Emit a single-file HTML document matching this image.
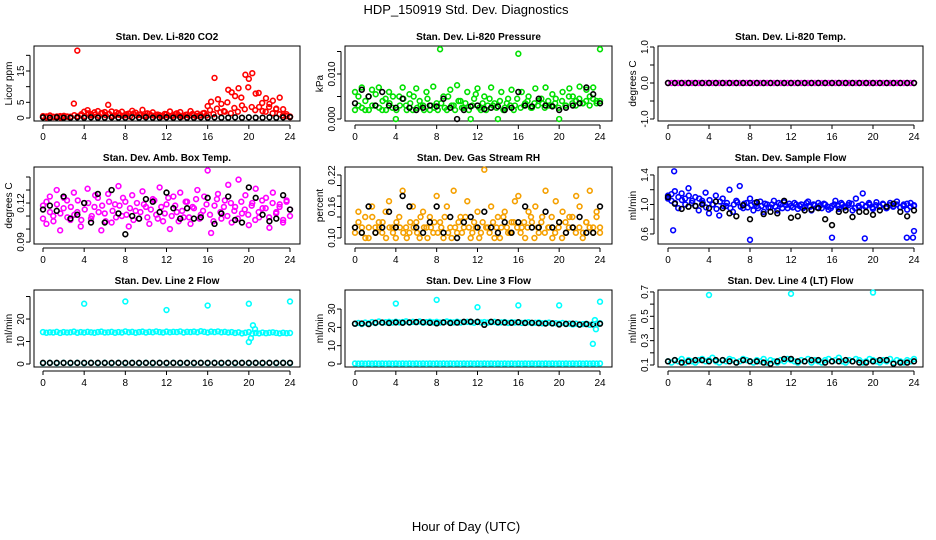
<!DOCTYPE html>
<html><head><meta charset="utf-8"><style>
body{margin:0;background:#fff}
svg{display:block;font-family:"Liberation Sans",sans-serif}
</style></head><body>
<svg id="chart" width="936" height="540" viewBox="0 0 936 540" xmlns="http://www.w3.org/2000/svg">
<text x="466" y="14" text-anchor="middle" font-size="13">HDP_150919  Std. Dev. Diagnostics</text>
<text x="466" y="531" text-anchor="middle" font-size="13">Hour of Day (UTC)</text>
</svg>
<script>
const xTicks=[0,4,8,12,16,20,24];
const co2Red=[0.3,0.5,0.2,0.4,0.3,0.6,0.2,0.5,0.4,4.6,21.5,0.8,2.0,2.5,1.2,1.8,2.2,1.5,1.9,4.2,2.1,0.8,1.5,2.0,0.9,1.4,2.3,1.7,1.1,2.6,0.7,1.3,1.8,1.0,0.9,0.6,1.2,2.1,0.8,1.5,1.9,0.7,1.1,2.2,0.9,1.4,0.8,1.6,3.8,5.2,12.8,6.0,4.5,2.0,9.0,8.2,7.0,9.5,4.0,13.8,12.5,14.3,7.8,3.5,2.2,6.3,4.5,5.5,3.0,6.5,2.8,1.2,0.5];
const co2Red2=[0.6,0.2,0.8,0.3,0.5,0.2,0.7,0.4,0.3,0.9,0.5,1.2,0.6,1.5,0.8,1.1,0.7,1.6,0.9,1.3,0.6,1.8,1.0,0.7,1.2,0.5,1.4,0.8,1.0,0.6,1.5,0.9,0.7,1.1,0.5,1.3,0.8,0.6,1.2,0.9,0.5,1.0,0.7,1.3,0.6,0.9,1.5,0.8,2.5,1.2,3.0,1.8,2.2,5.0,1.5,3.2,2.0,6.5,2.8,9.8,3.5,2.5,8.0,4.8,2.0,3.5,1.5,2.8,1.2,0.8,0.6,0.3];
const co2Black=[0.2,0.1,0.2,0.1,0.1,0.2,0.1,0.2,0.1,0.1,0.2,0.1,0.1,0.2,0.1,0.2,0.1,0.1,0.2,0.1,0.2,0.1,0.1,0.2,0.1,0.2,0.1,0.1,0.2,0.1,0.2,0.1,0.1,0.2,0.1,0.2,0.3];
const presGreen=[0.006,0.003,0.007,0.002,0.005,0.0065,0.003,0.007,0.002,0.0045,0.006,0.0025,0.0,0.005,0.007,0.003,0.0055,0.002,0.0068,0.004,0.003,0.006,0.002,0.0072,0.0035,0.0155,0.005,0.002,0.0065,0.003,0.0075,0.004,0.0025,0.006,0.0,0.0045,0.0068,0.002,0.005,0.003,0.007,0.0035,0.0,0.006,0.0025,0.0045,0.0065,0.003,0.0145,0.006,0.0035,0.005,0.0025,0.0068,0.004,0.0035,0.007,0.003,0.0055,0.0045,0.0,0.006,0.003,0.0068,0.005,0.004,0.0072,0.0035,0.0065,0.005,0.007,0.004,0.0155];
const presGreen2=[0.002,0.005,0.0025,0.004,0.002,0.003,0.0055,0.0025,0.004,0.002,0.0035,0.005,0.002,0.003,0.0045,0.002,0.0035,0.005,0.0025,0.003,0.002,0.0045,0.003,0.0025,0.002,0.0035,0.0025,0.005,0.003,0.002,0.004,0.0025,0.0035,0.002,0.003,0.0055,0.0025,0.0035,0.002,0.0045,0.003,0.0025,0.004,0.002,0.0035,0.003,0.002,0.0045,0.0025,0.003,0.004,0.0025,0.0035,0.003,0.0045,0.0025,0.004,0.003,0.0035,0.0025,0.004,0.003,0.005,0.0035,0.003,0.0045,0.0035,0.004,0.003,0.0045,0.0035,0.004];
const presBlack=[0.0035,0.0065,0.005,0.003,0.006,0.003,0.0025,0.0045,0.0025,0.002,0.0025,0.003,0.0028,0.0045,0.0025,0.0,0.002,0.0028,0.003,0.0022,0.0025,0.0028,0.002,0.0025,0.006,0.003,0.0028,0.0045,0.003,0.0028,0.002,0.0025,0.003,0.0035,0.007,0.0055,0.0035];
const tempMag=[0,0,0,0,0,0,0,0,0,0,0,0,0,0,0,0,0,0,0,0,0,0,0,0,0,0,0,0,0,0,0,0,0,0,0,0,0,0,0,0,0,0,0,0,0,0,0,0,0,0,0,0,0,0,0,0,0,0,0,0,0,0,0,0,0,0,0,0,0,0,0,0,0];
const tempBlack=[0,0,0,0,0,0,0,0,0,0,0,0,0,0,0,0,0,0,0,0,0,0,0,0,0,0,0,0,0,0,0,0,0,0,0,0,0];
const ambMag=[0.118,0.104,0.125,0.110,0.130,0.099,0.116,0.122,0.107,0.128,0.113,0.102,0.120,0.131,0.108,0.117,0.124,0.099,0.112,0.127,0.105,0.119,0.133,0.110,0.121,0.102,0.126,0.114,0.108,0.129,0.117,0.104,0.123,0.111,0.132,0.106,0.119,0.100,0.125,0.113,0.128,0.109,0.121,0.104,0.116,0.130,0.111,0.125,0.145,0.097,0.118,0.127,0.108,0.122,0.134,0.105,0.117,0.138,0.112,0.126,0.103,0.120,0.131,0.109,0.116,0.124,0.101,0.128,0.113,0.119,0.107,0.122,0.115];
const ambMag2=[0.108,0.121,0.113,0.106,0.119,0.112,0.124,0.109,0.117,0.111,0.122,0.107,0.115,0.120,0.110,0.126,0.113,0.118,0.106,0.121,0.114,0.109,0.118,0.124,0.111,0.116,0.107,0.120,0.113,0.119,0.109,0.115,0.122,0.108,0.117,0.112,0.124,0.110,0.118,0.106,0.114,0.121,0.109,0.117,0.123,0.108,0.114,0.119,0.111,0.106,0.123,0.113,0.117,0.110,0.120,0.114,0.108,0.121,0.115,0.111,0.118,0.107,0.113,0.122,0.116,0.109,0.120,0.112,0.117,0.105,0.121,0.110];
const ambBlack=[0.115,0.118,0.114,0.125,0.108,0.111,0.120,0.105,0.127,0.105,0.130,0.112,0.096,0.110,0.108,0.123,0.121,0.113,0.128,0.116,0.108,0.116,0.108,0.109,0.124,0.104,0.112,0.125,0.107,0.105,0.132,0.124,0.111,0.106,0.108,0.126,0.115];
const rhOrange=[0.12,0.15,0.11,0.14,0.10,0.16,0.12,0.13,0.11,0.15,0.17,0.12,0.10,0.14,0.19,0.12,0.11,0.16,0.13,0.10,0.15,0.12,0.14,0.11,0.18,0.13,0.10,0.16,0.12,0.19,0.11,0.14,0.12,0.17,0.10,0.13,0.15,0.11,0.23,0.12,0.16,0.10,0.14,0.12,0.15,0.11,0.13,0.17,0.18,0.12,0.10,0.15,0.13,0.16,0.11,0.14,0.19,0.12,0.10,0.17,0.13,0.15,0.11,0.14,0.12,0.18,0.16,0.11,0.13,0.19,0.12,0.15,0.11];
const rhOrange2=[0.11,0.13,0.12,0.10,0.12,0.14,0.11,0.12,0.13,0.10,0.12,0.11,0.13,0.12,0.11,0.10,0.13,0.12,0.11,0.14,0.12,0.10,0.12,0.13,0.11,0.12,0.14,0.11,0.10,0.12,0.13,0.11,0.14,0.12,0.11,0.12,0.10,0.13,0.12,0.11,0.13,0.12,0.10,0.14,0.12,0.11,0.13,0.12,0.11,0.13,0.12,0.14,0.10,0.12,0.13,0.11,0.12,0.14,0.11,0.12,0.10,0.13,0.12,0.14,0.11,0.12,0.10,0.13,0.12,0.11,0.14,0.12];
const rhBlack=[0.12,0.11,0.16,0.11,0.12,0.15,0.12,0.18,0.16,0.12,0.11,0.13,0.16,0.11,0.14,0.10,0.13,0.14,0.12,0.15,0.12,0.11,0.13,0.11,0.13,0.16,0.12,0.12,0.15,0.12,0.13,0.11,0.12,0.14,0.11,0.11,0.16];
const flowBlue=[1.12,1.05,1.18,0.95,1.15,1.08,1.22,1.02,1.10,0.92,1.05,1.16,0.88,1.00,1.12,0.85,1.08,0.98,1.20,0.90,1.05,1.25,0.95,1.02,1.08,0.92,0.98,1.04,0.90,1.00,0.96,1.05,0.92,1.00,1.03,0.95,0.98,1.02,0.94,1.00,0.97,1.04,0.92,0.99,1.02,0.95,1.00,0.93,0.98,1.05,0.94,1.00,0.97,1.02,0.92,1.08,0.96,1.15,0.98,1.00,0.94,1.03,0.97,1.00,0.95,1.02,0.98,1.04,0.96,1.00,0.93,1.02,0.98];
const flowBlue2=[1.08,1.14,1.02,1.10,1.06,1.00,1.12,1.05,0.98,1.08,1.02,0.96,1.06,1.00,0.94,1.04,0.98,1.02,0.95,1.00,1.03,0.97,1.01,0.96,0.99,1.02,0.95,0.98,1.01,0.96,1.00,0.97,1.02,0.95,0.99,1.01,0.96,1.00,0.98,0.95,1.02,0.97,1.00,0.96,0.99,1.01,0.97,0.95,1.00,0.98,1.02,0.96,0.99,1.01,0.95,0.98,1.00,0.97,1.02,0.96,0.99,0.97,1.01,0.95,0.99,0.97,1.00,0.96,0.98,1.01,0.97,0.99];
const flowBlack=[1.10,1.01,0.94,0.97,0.98,1.00,0.95,1.04,0.95,0.88,0.84,0.99,0.80,1.03,0.87,0.90,0.88,1.05,0.82,0.84,0.92,0.93,0.95,0.80,0.72,0.90,0.92,0.83,0.90,0.90,0.86,0.92,0.97,1.01,0.90,0.84,0.92];
const flowOutX=[0.5,0.6,8,16,19.2,23.3,23.9,24];
const flowOutY=[0.65,1.45,0.52,0.55,0.54,0.55,0.55,0.64];
const line2Cyan=[14.2,13.9,14.1,14.0,14.3,13.8,14.2,14.0,14.1,14.4,13.9,14.2,14.0,14.3,14.1,13.9,14.2,14.4,14.0,14.1,14.3,13.9,14.2,14.0,14.5,14.1,14.3,13.9,14.2,14.4,14.0,14.3,14.1,14.5,14.2,14.0,14.4,14.1,14.3,14.2,14.5,14.0,14.3,14.2,14.4,14.1,14.6,14.3,14.0,14.4,14.2,14.5,14.1,14.3,14.0,14.2,13.8,14.1,13.6,13.9,14.2,13.5,13.8,13.6,14.0,13.7,13.9,14.1,13.8,13.6,13.9,13.7,13.8];
const line2Low=[0.4,0.5,0.4,0.5,0.4,0.5,0.4,0.5,0.4,0.5,0.4,0.5,0.4,0.5,0.4,0.5,0.4,0.5,0.4,0.5,0.4,0.5,0.4,0.5,0.4,0.5,0.4,0.5,0.4,0.5,0.4,0.5,0.4,0.5,0.4,0.5,0.4];
const line2Black=[0.5,0.5,0.5,0.5,0.5,0.5,0.5,0.5,0.5,0.5,0.5,0.5,0.5,0.5,0.5,0.5,0.5,0.5,0.5,0.5,0.5,0.5,0.5,0.5,0.5,0.5,0.5,0.5,0.5,0.5,0.5,0.5,0.5,0.5,0.5,0.5,0.5];
const line2OutX=[4,8,12,16,20,24,20,20.2,20.4,20.6];
const line2OutY=[26.8,27.8,24.0,26.0,26.8,27.8,9.8,11.5,17.2,15.5];
const line3Cyan=[22.0,22.4,21.8,22.6,22.2,22.9,22.3,23.2,22.5,22.8,23.0,22.6,23.1,22.7,22.9,23.3,22.6,23.0,22.8,23.2,22.5,22.9,23.1,22.7,23.0,22.6,22.8,23.2,22.9,22.7,23.1,22.6,22.9,23.0,22.8,22.5,23.0,22.7,22.9,22.6,22.8,23.0,22.5,22.7,22.9,22.4,22.8,22.6,22.7,22.4,22.6,22.8,22.3,22.5,22.7,22.2,22.4,22.6,22.1,22.3,22.0,22.4,21.8,22.1,21.6,22.0,21.5,21.8,22.0,21.4,21.8,22.0,22.3];
const line3Low=[0.3,0.2,0.3,0.2,0.3,0.2,0.3,0.2,0.3,0.2,0.3,0.2,0.3,0.2,0.3,0.2,0.3,0.2,0.3,0.2,0.3,0.2,0.3,0.2,0.3,0.2,0.3,0.2,0.3,0.2,0.3,0.2,0.3,0.2,0.3,0.2,0.3,0.2,0.3,0.2,0.3,0.2,0.3,0.2,0.3,0.2,0.3,0.2,0.3,0.2,0.3,0.2,0.3,0.2,0.3,0.2,0.3,0.2,0.3,0.2,0.3,0.2,0.3,0.2,0.3,0.2,0.3,0.2,0.3,0.2,0.3,0.2,0.3];
const line3Black=[22.0,22.1,21.8,22.5,22.6,22.4,22.7,22.5,22.7,22.9,22.8,22.5,22.2,22.7,22.4,22.6,23.0,23.1,23.0,21.4,23.0,22.8,22.6,22.5,22.8,22.4,22.5,22.3,22.1,22.2,21.6,21.9,22.0,21.5,21.8,21.6,22.0];
const line3OutX=[4,8,12,16,20,24,23.3,23.6,23.5];
const line3OutY=[33,35,31,32,32,34,11,19,24];
const line4Cyan=[0.13,0.12,0.14,0.13,0.15,0.12,0.14,0.13,0.12,0.14,0.15,0.13,0.14,0.16,0.13,0.12,0.14,0.13,0.15,0.14,0.12,0.13,0.15,0.14,0.13,0.12,0.14,0.13,0.15,0.12,0.14,0.13,0.12,0.14,0.13,0.15,0.14,0.13,0.12,0.14,0.13,0.15,0.12,0.14,0.13,0.12,0.14,0.15,0.13,0.14,0.16,0.13,0.12,0.14,0.13,0.15,0.14,0.12,0.13,0.15,0.14,0.13,0.12,0.14,0.13,0.15,0.12,0.14,0.13,0.12,0.14,0.13,0.15];
const line4Black=[0.13,0.14,0.12,0.13,0.14,0.14,0.13,0.14,0.14,0.13,0.12,0.14,0.13,0.13,0.12,0.11,0.13,0.15,0.15,0.13,0.13,0.14,0.14,0.12,0.13,0.13,0.14,0.13,0.12,0.12,0.13,0.14,0.14,0.11,0.12,0.12,0.13];
const line4OutX=[4,12,20];
const line4OutY=[0.675,0.685,0.695];

const svg=document.getElementById('chart');
const NS='http://www.w3.org/2000/svg';
function mk(tag,attrs,parent){const e=document.createElementNS(NS,tag);for(const k in attrs)e.setAttribute(k,attrs[k]);(parent||svg).appendChild(e);return e;}
const colL=[34,345,658],colR=[300,612,923],x0p=[43,355,668],x24p=[290,600,914];
const rowT=[46,167,290],rowB=[121,244,367];
const panels=[
 {name:'co2',title:'Stan. Dev. Li-820 CO2',yl:'Licor ppm',c:0,r:0,ymin:-0.96,ymax:22.98,ticks:[0,5,10,15,20],labels:['0','5','','15',''],series:[[co2Red,'#ff0000'],[co2Red2,'#ff0000'],[co2Black,'#000']]},
 {name:'pressure',title:'Stan. Dev. Li-820 Pressure',yl:'kPa',c:1,r:0,ymin:-0.00044,ymax:0.01622,ticks:[0,0.005,0.01,0.015],labels:['0.000','','0.010',''],series:[[presGreen,'#00e000'],[presGreen2,'#00e000'],[presBlack,'#000']]},
 {name:'temp',title:'Stan. Dev. Li-820 Temp.',yl:'degrees C',c:2,r:0,ymin:-1.056,ymax:1.028,ticks:[-1,-0.5,0,0.5,1],labels:['-1.0','','0.0','','1.0'],series:[[tempMag,'#ff00ff'],[tempBlack,'#000']]},
 {name:'amb-box-temp',title:'Stan. Dev. Amb. Box Temp.',yl:'degrees C',c:0,r:1,ymin:0.0885,ymax:0.1477,ticks:[0.09,0.10,0.11,0.12,0.13,0.14],labels:['0.09','','','0.12','',''],series:[[ambMag,'#ff00ff'],[ambMag2,'#ff00ff'],[ambBlack,'#000']]},
 {name:'gas-rh',title:'Stan. Dev. Gas Stream RH',yl:'percent',c:1,r:1,ymin:0.0886,ymax:0.2352,ticks:[0.10,0.12,0.14,0.16,0.18,0.20,0.22],labels:['0.10','','','0.16','','','0.22'],series:[[rhOrange,'#f5a000'],[rhOrange2,'#f5a000'],[rhBlack,'#000']]},
 {name:'sample-flow',title:'Stan. Dev. Sample Flow',yl:'ml/min',c:2,r:1,ymin:0.464,ymax:1.508,ticks:[0.6,0.8,1.0,1.2,1.4],labels:['0.6','','1.0','','1.4'],series:[[flowBlue,'#0000ff'],[flowBlue2,'#0000ff'],[flowBlack,'#000']],outX:flowOutX,outY:flowOutY,outC:'#0000ff'},
 {name:'line2-flow',title:'Stan. Dev. Line 2 Flow',yl:'ml/min',c:0,r:2,ymin:-1.33,ymax:32.9,ticks:[0,10,20,30],labels:['0','10','20',''],series:[[line2Cyan,'#00ffff'],[line2Low,'#00ffff'],[line2Black,'#000']],outX:line2OutX,outY:line2OutY,outC:'#00ffff'},
 {name:'line3-flow',title:'Stan. Dev. Line 3 Flow',yl:'ml/min',c:1,r:2,ymin:-1.64,ymax:40.4,ticks:[0,10,20,30],labels:['0','10','20','30'],series:[[line3Cyan,'#00ffff'],[line3Low,'#00ffff'],[line3Black,'#000']],outX:line3OutX,outY:line3OutY,outC:'#00ffff'},
 {name:'line4-flow',title:'Stan. Dev. Line 4 (LT) Flow',yl:'ml/min',c:2,r:2,ymin:0.0836,ymax:0.716,ticks:[0.1,0.2,0.3,0.4,0.5,0.6,0.7],labels:['0.1','','0.3','','0.5','','0.7'],series:[[line4Cyan,'#00ffff'],[line4Black,'#000']],outX:line4OutX,outY:line4OutY,outC:'#00ffff'}
];
panels.forEach(p=>{
 const L=colL[p.c],R=colR[p.c],T=rowT[p.r],B=rowB[p.r];
 const xs=v=>x0p[p.c]+(x24p[p.c]-x0p[p.c])*v/24;
 const ys=v=>B-(v-p.ymin)/(p.ymax-p.ymin)*(B-T);
 const g=mk('g',{});
 
 
 const t=mk('text',{x:(L+R)/2,y:T-6,'text-anchor':'middle','font-size':'10','font-weight':'bold'},g);
 
 
 t.textContent=p.title;
 const yl=mk('text',{x:0,y:0,'text-anchor':'middle','font-size':'10',transform:`translate(${L-22},${(T+B)/2}) rotate(-90)`},g);
 
 
 yl.textContent=p.yl;
 const box=mk('rect',{x:L,y:T,width:R-L,height:B-T,fill:'none',stroke:'#000','stroke-width':1},g);
 
 
 const xa=mk('g',{},g);
 
 
 mk('line',{x1:xs(0),x2:xs(24),y1:B+4,y2:B+4,stroke:'#000'},xa);
 xTicks.forEach(v=>{mk('line',{x1:xs(v),x2:xs(v),y1:B+4,y2:B+8,stroke:'#000'},xa);
  const tl=mk('text',{x:xs(v),y:B+19,'text-anchor':'middle','font-size':'10'},xa);
  
  
  tl.textContent=v;});
 const ya=mk('g',{},g);
 
 
 mk('line',{x1:L-4,x2:L-4,y1:ys(p.ticks[0]),y2:ys(p.ticks[p.ticks.length-1]),stroke:'#000'},ya);
 p.ticks.forEach((v,i)=>{mk('line',{x1:L-8,x2:L-4,y1:ys(v),y2:ys(v),stroke:'#000'},ya);
  if(p.labels[i]){const tl=mk('text',{x:0,y:0,'text-anchor':'middle','font-size':'10',transform:`translate(${L-10},${ys(v)}) rotate(-90)`},ya);
  
  
  tl.textContent=p.labels[i];}});
 p.series.forEach((s,si)=>{const vals=s[0],n=vals.length;
  const sg=mk('g',{},g);
  
  
  vals.forEach((v,i)=>{const c=mk('circle',{cx:xs(i*24/(n-1)),cy:ys(v),r:2.4,fill:'none',stroke:s[1],'stroke-width':1.6},sg);
   
   });});
 if(p.outX){const og=mk('g',{},g);
  
  
  p.outX.forEach((x,i)=>{const c=mk('circle',{cx:xs(x),cy:ys(p.outY[i]),r:2.4,fill:'none',stroke:p.outC,'stroke-width':1.6},og);
   
   });}
});
</script>
</body></html>
